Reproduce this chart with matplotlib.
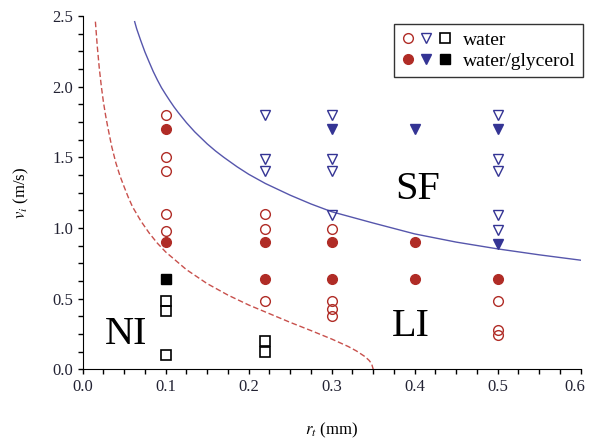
import matplotlib
matplotlib.use("Agg")
import matplotlib.pyplot as plt
import matplotlib.transforms as mtransforms
from matplotlib.lines import Line2D
from matplotlib.legend_handler import HandlerTuple
from matplotlib.ticker import MultipleLocator, FormatStrFormatter

plt.rcParams['font.family'] = ['Liberation Serif', 'DejaVu Serif']
plt.rcParams['mathtext.fontset'] = 'stix'

# ---- data ----
# water, circles (open red)
wc_r = [0.1, 0.1, 0.1, 0.1, 0.1, 0.22, 0.22, 0.22, 0.3, 0.3, 0.3, 0.3, 0.5, 0.5, 0.5]
wc_v = [1.80, 1.50, 1.40, 1.10, 0.98, 1.10, 0.99, 0.485, 0.99, 0.48, 0.43, 0.38, 0.485, 0.28, 0.245]
# water/glycerol, circles (filled red)
gc_r = [0.1, 0.1, 0.22, 0.22, 0.3, 0.3, 0.4, 0.4, 0.5]
gc_v = [1.70, 0.90, 0.90, 0.64, 0.90, 0.64, 0.90, 0.64, 0.64]
# water, triangles (open blue)
wt_r = [0.22, 0.22, 0.22, 0.3, 0.3, 0.3, 0.3, 0.5, 0.5, 0.5, 0.5, 0.5]
wt_v = [1.80, 1.49, 1.40, 1.80, 1.49, 1.40, 1.09, 1.80, 1.49, 1.40, 1.09, 0.985]
# water/glycerol, triangles (filled blue)
gt_r = [0.3, 0.4, 0.5, 0.5]
gt_v = [1.70, 1.70, 1.70, 0.89]
# water, squares (open black)
ws_r = [0.1, 0.1, 0.1, 0.22, 0.22]
ws_v = [0.48, 0.41, 0.10, 0.20, 0.12]
# water/glycerol, squares (filled black)
gs_r = [0.1]
gs_v = [0.64]

# SF boundary (solid blue)
sf_r = [0.0626, 0.065, 0.07, 0.075, 0.08, 0.085, 0.09, 0.095, 0.10, 0.105, 0.11, 0.115,
        0.125, 0.135, 0.15, 0.16, 0.17, 0.186, 0.20, 0.22, 0.25, 0.275, 0.30, 0.35,
        0.40, 0.45, 0.50, 0.55, 0.60]
sf_v = [2.46, 2.41, 2.325, 2.245, 2.175, 2.107, 2.047, 1.992, 1.945, 1.90, 1.857, 1.818,
        1.745, 1.68, 1.595, 1.545, 1.50, 1.433, 1.38, 1.315, 1.232, 1.17, 1.115, 1.035,
        0.958, 0.90, 0.852, 0.81, 0.772]
# NI boundary (dashed red)
ni_r = [0.0153, 0.0175, 0.02, 0.0225, 0.025, 0.0275, 0.03, 0.035, 0.04, 0.045, 0.05,
        0.055, 0.06, 0.07, 0.08, 0.09, 0.10, 0.125, 0.15, 0.175, 0.20, 0.25, 0.275,
        0.30, 0.32, 0.33, 0.34, 0.345, 0.348, 0.35]
ni_v = [2.46, 2.29, 2.13, 2.00, 1.89, 1.80, 1.72, 1.575, 1.46, 1.367, 1.29, 1.216,
        1.15, 1.05, 0.965, 0.892, 0.83, 0.705, 0.606, 0.525, 0.455, 0.332, 0.274,
        0.214, 0.161, 0.129, 0.09, 0.063, 0.04, 0.0]

labels = ["water", "water/glycerol"]
regions = ["NI", "LI", "SF"]

RED = '#b02c26'
BLUE = '#343494'
LRED = '#c8504c'
LBLUE = '#5656ac'

fig = plt.figure(figsize=(5.89, 4.41), dpi=100)
ax = fig.add_axes([0.1404, 0.1626, 0.986 - 0.1404, 0.9637 - 0.1626])

ax.plot(sf_r, sf_v, '-', color=LBLUE, lw=1.0, zorder=2)
ax.plot(ni_r, ni_v, '--', color=LRED, lw=1.0, dashes=(4, 2), zorder=2)

ms = 7
mew = 1.0
ax.plot(wc_r, wc_v, 'o', ls='none', ms=ms, mfc='none', mec=RED, mew=mew, zorder=3)
ax.plot(gc_r, gc_v, 'o', ls='none', ms=ms, mfc=RED, mec=RED, mew=mew, zorder=4)
ax.plot(wt_r, wt_v, 'v', ls='none', ms=ms + 0.5, mfc='none', mec=BLUE, mew=mew, zorder=3)
ax.plot(gt_r, gt_v, 'v', ls='none', ms=ms + 0.5, mfc=BLUE, mec=BLUE, mew=mew, zorder=4)
ax.plot(ws_r, ws_v, 's', ls='none', ms=ms, mfc='none', mec='black', mew=mew + 0.2, zorder=3)
ax.plot(gs_r, gs_v, 's', ls='none', ms=ms, mfc='black', mec='black', mew=mew, zorder=4)

ax.text(0.0526, 0.243, regions[0], fontsize=29, ha='center', va='center')
ax.text(0.395, 0.30, regions[1], fontsize=29, ha='center', va='center')
ax.text(0.403, 1.27, regions[2], fontsize=29, ha='center', va='center')

ax.set_xlim(0, 0.6)
ax.set_ylim(0, 2.5)
ax.spines['top'].set_visible(False)
ax.spines['right'].set_visible(False)
ax.xaxis.set_major_locator(MultipleLocator(0.1))
ax.xaxis.set_minor_locator(MultipleLocator(0.025))
ax.yaxis.set_major_locator(MultipleLocator(0.5))
ax.yaxis.set_minor_locator(MultipleLocator(0.125))
ax.xaxis.set_major_formatter(FormatStrFormatter('%.1f'))
ax.yaxis.set_major_formatter(FormatStrFormatter('%.1f'))
ax.tick_params(which='both', direction='out', length=3.8, width=1.0, labelsize=12,
               labelcolor='#222233', pad=3)

ax.set_xlabel(r'$r_t$ (mm)', fontsize=12)
ax.set_ylabel(r'$v_i$ (m/s)', fontsize=12)
ax.xaxis.set_label_coords(0.5, -0.145)
ax.yaxis.set_label_coords(-0.104, 0.5)

h_water = (Line2D([], [], marker='o', ls='none', ms=ms, mfc='none', mec=RED, mew=mew),
           Line2D([], [], marker='v', ls='none', ms=ms + 0.5, mfc='none', mec=BLUE, mew=mew),
           Line2D([], [], marker='s', ls='none', ms=ms, mfc='none', mec='black', mew=mew + 0.2))
h_gly = (Line2D([], [], marker='o', ls='none', ms=ms, mfc=RED, mec=RED, mew=mew),
         Line2D([], [], marker='v', ls='none', ms=ms + 0.5, mfc=BLUE, mec=BLUE, mew=mew),
         Line2D([], [], marker='s', ls='none', ms=ms, mfc='black', mec='black', mew=mew))
leg = ax.legend([h_water, h_gly], labels, handler_map={tuple: HandlerTuple(ndivide=None, pad=0.3)},
                loc='upper right', bbox_to_anchor=(1.004, 0.977), borderaxespad=0,
                fontsize=14, handlelength=2.6, handletextpad=0.6, labelspacing=0.2,
                borderpad=0.35, fancybox=False, framealpha=1, edgecolor='#333333')
leg.get_frame().set_linewidth(1.0)

# nudge the last x tick label so it stays inside the figure
fig.canvas.draw()
for lab in ax.get_xticklabels():
    if lab.get_text() == '0.6':
        lab.set_transform(lab.get_transform() +
                          mtransforms.ScaledTranslation(-6 / 100, 0, fig.dpi_scale_trans))

fig.savefig('out.png', dpi=100)
